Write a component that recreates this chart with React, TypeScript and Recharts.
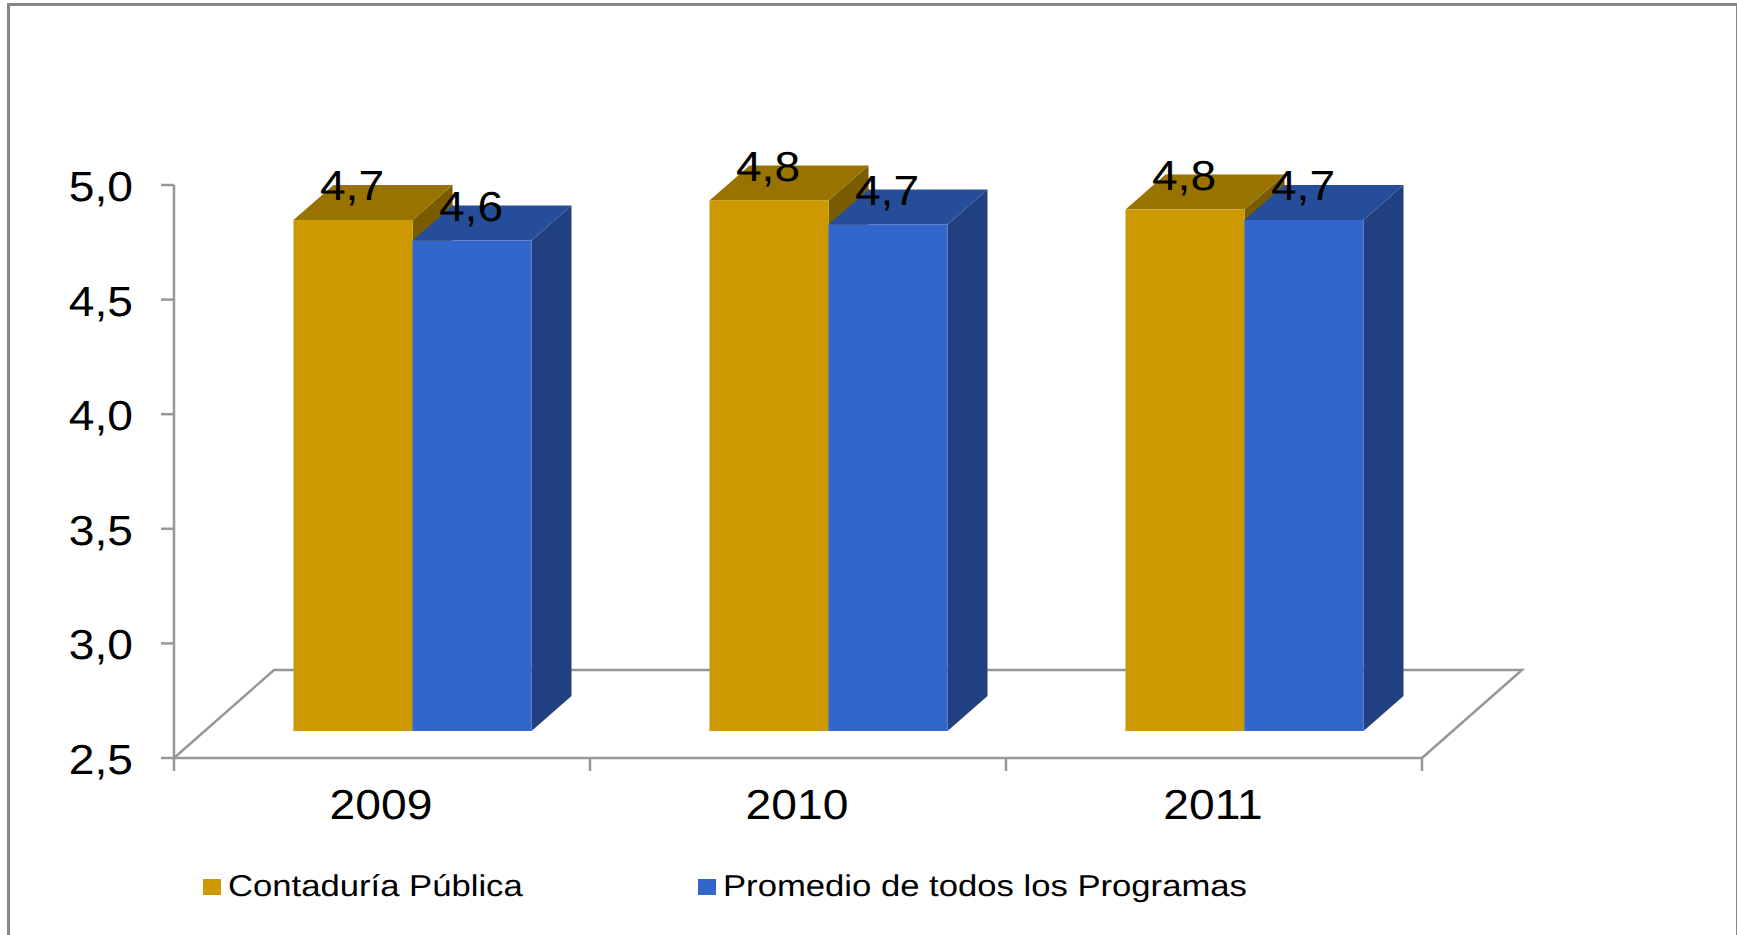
import { BarChart, Bar, XAxis, YAxis, Legend, LabelList, usePlotArea } from "recharts";

const years = ["2009", "2010", "2011"];
const contaduria = [4.73, 4.815, 4.775];
const promedio = [4.64, 4.71, 4.73];
const yTicks = [2.5, 3, 3.5, 4, 4.5, 5];

const data = years.map((year, i) => ({
    year,
    contaduria: contaduria[i],
    promedio: promedio[i],
}));

const AXIS = "#979797";
const FONT = "'Liberation Sans', Arial, sans-serif";
// the old 3D look: bars stand inside the floor, shifted up and right of the axes
const SHIFT_X = 30.5;
const SHIFT_Y = -27;
const DEPTH_X = 40;
const DEPTH_Y = 35;

// the reference is stretched sideways, so the text is too
function WideText({ x, y, size, children, anchor = "middle" }: any) {
    return (
        <text
            transform={`translate(${x} ${y}) scale(1.1 1)`}
            textAnchor={anchor}
            dominantBaseline="central"
            textRendering="geometricPrecision"
            fontFamily={FONT}
            fontSize={size}
            fill="#000"
        >
            {children}
        </text>
    );
}

const comma = (v: number) => v.toFixed(1).replace(".", ",");

function makeBox(side: string, top: string) {
    return function Box({ x, y, width, height, fill }: any) {
        const left = x + SHIFT_X;
        const right = left + width;
        const ty = y + SHIFT_Y;
        const by = ty + height;
        return (
            <g>
                <path d={`M${right} ${ty}L${right + DEPTH_X} ${ty - DEPTH_Y}V${by - DEPTH_Y}L${right} ${by}Z`} fill={side} />
                <path d={`M${left} ${ty}L${left + DEPTH_X} ${ty - DEPTH_Y}H${right + DEPTH_X}L${right} ${ty}Z`} fill={top} />
                <rect x={left} y={ty} width={width} height={height} fill={fill} />
            </g>
        );
    };
}

function BarValue({ x, y, width, value }: any) {
    return (
        <WideText x={x + width / 2 + SHIFT_X - 1} y={y + SHIFT_Y - 34} size={42}>
            {comma(value)}
        </WideText>
    );
}

function Floor() {
    const area = usePlotArea();
    if (!area) return null;
    const { x, y, width, height } = area;
    const base = y + height;
    const back = base - 88;
    const deep = 100;
    const steps = years.map((_, i) => x + (width * (i + 1)) / years.length);
    return (
        <g stroke={AXIS} strokeWidth={2.5} fill="none">
            <path d={`M${x} ${base}L${x + deep} ${back}H${x + width + deep}L${x + width} ${base}`} />
            <line x1={x} x2={x} y1={base} y2={base + 13} />
            {steps.map((sx) => (
                <line key={sx} x1={sx} x2={sx} y1={base} y2={base + 13} />
            ))}
        </g>
    );
}

function LegendRow({ payload }: any) {
    return (
        <div style={{ display: "flex", fontFamily: FONT, fontSize: 30, color: "#000", textRendering: "geometricPrecision" }}>
            {(payload || []).map((p: any) => (
                <div key={p.value} style={{ width: 495, display: "flex", alignItems: "center" }}>
                    <span style={{ width: 18, height: 16, background: p.color, marginRight: 7 }} />
                    <span style={{ transform: "scaleX(1.155)", transformOrigin: "left center", whiteSpace: "nowrap" }}>
                        {p.value}
                    </span>
                </div>
            ))}
        </div>
    );
}

export default function App() {
    return (
        <div style={{ position: "absolute", left: 0, top: 0, width: 1737, height: 935, background: "#fff", overflow: "hidden" }}>
            <div
                style={{
                    position: "absolute",
                    left: 7,
                    top: 3,
                    width: 1726,
                    height: 960,
                    border: "3px solid #878787",
                    boxSizing: "content-box",
                }}
            />
            <BarChart
                width={1737}
                height={935}
                data={data}
                barSize={119}
                barGap={0}
                margin={{ top: 185, right: 315, bottom: 0, left: 0 }}
                style={{ position: "absolute", left: 0, top: 0 }}
            >
                <XAxis
                    dataKey="year"
                    height={177}
                    stroke={AXIS}
                    strokeWidth={2.5}
                    tickLine={false}
                    tick={({ x, payload }: any) => (
                        <WideText x={x - 1} y={804} size={42}>
                            {payload.value}
                        </WideText>
                    )}
                />
                <YAxis
                    width={174}
                    domain={[2.5, 5]}
                    ticks={yTicks}
                    interval={0}
                    stroke={AXIS}
                    strokeWidth={2.5}
                    tickSize={13}
                    tick={({ y, payload }: any) => (
                        <WideText x={133} y={y + 1.5} size={42} anchor="end">
                            {comma(payload.value)}
                        </WideText>
                    )}
                />
                <Floor />
                <Legend
                    verticalAlign="middle"
                    content={<LegendRow />}
                    wrapperStyle={{ position: "absolute", left: 203, top: 870, width: 1000, height: 42, margin: 0 }}
                />
                <Bar dataKey="contaduria" name="Contaduría Pública" fill="#CC9900" isAnimationActive={false} shape={makeBox("#7A5C00", "#997300")}>
                    <LabelList dataKey="contaduria" content={<BarValue />} />
                </Bar>
                <Bar dataKey="promedio" name="Promedio de todos los Programas" fill="#3366CC" isAnimationActive={false} shape={makeBox("#204080", "#264D99")}>
                    <LabelList dataKey="promedio" content={<BarValue />} />
                </Bar>
            </BarChart>
        </div>
    );
}
